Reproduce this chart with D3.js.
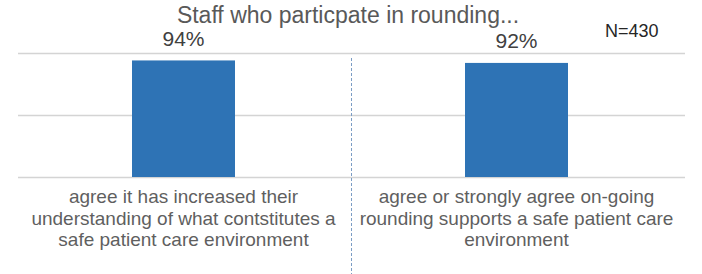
<!DOCTYPE html>
<html>
<head>
<meta charset="utf-8">
<script src="https://cdn.jsdelivr.net/npm/d3@7"></script>
<style>
  body { margin: 0; background: #fff; }
  text { font-family: "Liberation Sans", Arial, sans-serif; }
</style>
</head>
<body>
<div id="chart"></div>
<script>
var categories = [
  ["agree it has increased their", "understanding of what contstitutes a", "safe patient care environment"],
  ["agree or strongly agree on-going", "rounding supports a safe patient care", "environment"]
];
var values = [94, 92];
var valueLabels = ["94%", "92%"];
var gridTicks = [0, 50, 100];
var title = "Staff who particpate in rounding...";
var note = "N=430";

var width = 702, height = 274;
var svg = d3.select("#chart").append("svg")
  .attr("width", width).attr("height", height);

var x = d3.scaleBand().domain([0, 1]).range([17, 683]);
var y = d3.scaleLinear().domain([0, 100]).range([177, 53]);
var barW = 103;

// gridlines
svg.selectAll(".grid").data(gridTicks).enter().append("line")
  .attr("x1", 18).attr("x2", 685)
  .attr("y1", function(d){ return y(d) + 0.5; })
  .attr("y2", function(d){ return y(d) + 0.5; })
  .attr("stroke", "#d4d4d4").attr("stroke-width", 1.5);

// divider
svg.append("line")
  .attr("x1", 351.5).attr("x2", 351.5).attr("y1", 58).attr("y2", 274)
  .attr("stroke", "#7b9cc4").attr("stroke-width", 1)
  .attr("stroke-dasharray", "3,2");

// bars
svg.selectAll(".bar").data(values).enter().append("rect")
  .attr("x", function(d, i){ return x(i) + x.bandwidth()/2 - barW/2; })
  .attr("y", function(d){ return y(d); })
  .attr("width", barW)
  .attr("height", function(d){ return y(0) - y(d); })
  .attr("fill", "#2e73b5");

// value labels
svg.selectAll(".val").data(values).enter().append("text")
  .attr("x", function(d, i){ return x(i) + x.bandwidth()/2; })
  .attr("y", function(d){ return y(d) - 14.5; })
  .attr("text-anchor", "middle")
  .attr("font-size", 21)
  .attr("fill", "#404040")
  .text(function(d, i){ return valueLabels[i]; });

// category labels
var cat = svg.selectAll(".cat").data(categories).enter().append("text")
  .attr("text-anchor", "middle")
  .attr("font-size", 19)
  .attr("fill", "#5f5f5f");
cat.selectAll("tspan").data(function(d, i){ return d.map(function(t){ return {t: t, i: i}; }); })
  .enter().append("tspan")
  .attr("x", function(d){ return x(d.i) + x.bandwidth()/2; })
  .attr("y", function(d, j){ return 203 + j * 21.5; })
  .text(function(d){ return d.t; });

// title
svg.append("text")
  .attr("x", 348).attr("y", 23)
  .attr("text-anchor", "middle")
  .attr("font-size", 23)
  .attr("fill", "#595959")
  .text(title);

svg.append("text")
  .attr("x", 605).attr("y", 37)
  .attr("font-size", 18)
  .attr("fill", "#262626")
  .text(note);
</script>
</body>
</html>
